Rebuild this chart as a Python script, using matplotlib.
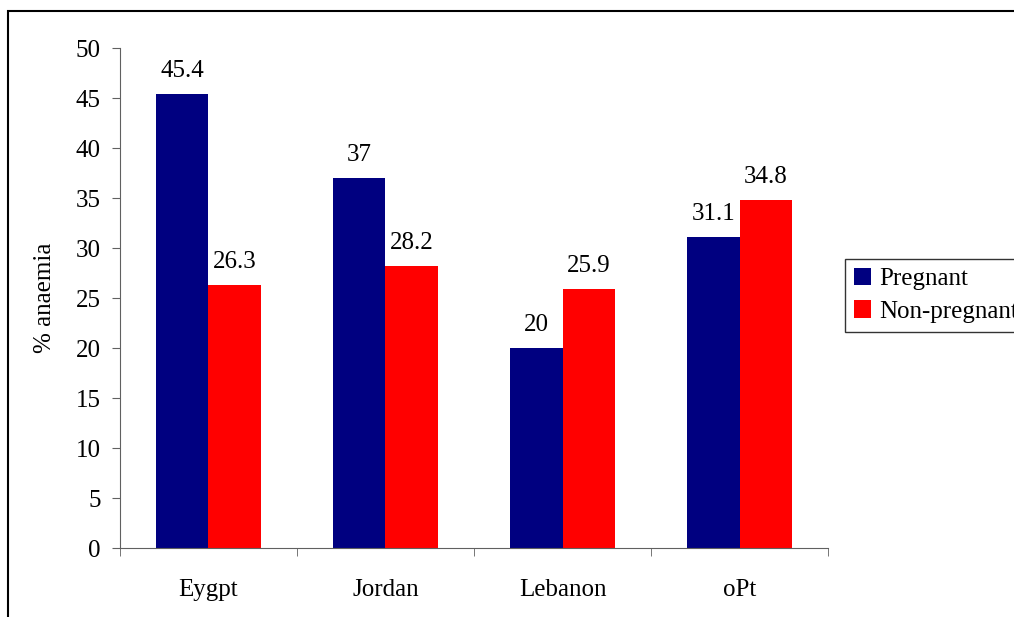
import numpy as np
import matplotlib.pyplot as plt
from matplotlib.patches import Rectangle

countries = ['Eygpt', 'Jordan', 'Lebanon', 'oPt']
pregnant = [45.4, 37, 20, 31.1]
non_pregnant = [26.3, 28.2, 25.9, 34.8]
yticks = [0, 5, 10, 15, 20, 25, 30, 35, 40, 45, 50]

plt.rcParams['font.family'] = 'Liberation Serif'
plt.rcParams['font.size'] = 18

fig = plt.figure(figsize=(10.14, 6.17), dpi=100)
ax = fig.add_axes([0.1183, 0.1118, 0.6983, 0.8104])

# outer chart frame, runs off the right and bottom edges
fig.patches.append(Rectangle((8 / 1014, -0.1), 1.2, 0.1 + (617 - 11) / 617,
                             transform=fig.transFigure, fill=False,
                             edgecolor='black', linewidth=1.5))

x = np.arange(len(countries))
w = 0.295
b1 = ax.bar(x - w / 2, pregnant, w, color='#000080', label='Pregnant')
b2 = ax.bar(x + w / 2, non_pregnant, w, color='#ff0000', label='Non-pregnant')

for bars, vals in ((b1, pregnant), (b2, non_pregnant)):
    for r, v in zip(bars, vals):
        ax.annotate(f'{v:g}', (r.get_x() + r.get_width() / 2, v),
                    xytext=(0, 9), textcoords='offset points',
                    ha='center', va='bottom')

ax.set_xlim(-0.5, len(countries) - 0.5)
ax.set_ylim(0, 50)
ax.set_yticks(yticks)
ax.set_xticks(x)
ax.set_xticklabels(countries)
ax.set_xticks(np.arange(len(countries) + 1) - 0.5, minor=True)
ax.tick_params(axis='x', which='major', length=0, pad=22)
ax.tick_params(axis='x', which='minor', length=6, direction='out', color='#606060')
ax.tick_params(axis='y', length=6, direction='out', color='#606060', pad=8)

for s in ('top', 'right'):
    ax.spines[s].set_visible(False)
for s in ('left', 'bottom'):
    ax.spines[s].set_color('#606060')

ax.set_ylabel('% anaemia', labelpad=14)

leg = fig.legend(handles=[b1, b2], loc='upper left',
                 bbox_to_anchor=(845 / 1014, (617 - 259) / 617),
                 frameon=True, fancybox=False, edgecolor='black',
                 handlelength=0.7, handleheight=0.7, handletextpad=0.3,
                 borderpad=0.35, labelspacing=0.4, borderaxespad=0)
leg.get_frame().set_linewidth(1.0)

fig.savefig('out.png', dpi=100)
